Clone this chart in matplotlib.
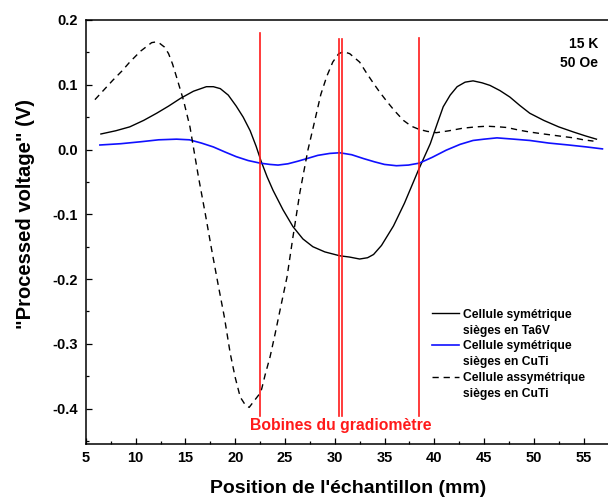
import numpy as np
import matplotlib
matplotlib.use('Agg')
from matplotlib import pyplot as plt
from matplotlib.lines import Line2D

plt.rcParams['font.family'] = ['Liberation Sans', 'DejaVu Sans']
plt.rcParams['font.weight'] = 'bold'

# Cellule symetrique, sieges en Ta6V
x_ta6v = [6.5, 8.0, 9.4, 10.8, 12.1, 13.3, 14.5, 15.8, 17.1, 17.8, 18.5, 19.3, 20.1, 20.8,
          21.5, 22.1, 22.6, 23.2, 23.8, 24.8, 25.8, 26.8, 27.8, 29.0, 30.5, 31.5, 32.5,
          33.3, 33.9, 34.7, 35.9, 37.0, 38.4, 39.6, 40.3, 40.9, 41.6, 42.3, 43.1, 43.9,
          44.8, 45.6, 46.6, 47.6, 48.6, 49.6, 51.0, 52.5, 54.0, 55.2, 56.3]
y_ta6v = [0.024, 0.029, 0.035, 0.045, 0.056, 0.067, 0.079, 0.090, 0.097, 0.097, 0.094, 0.084,
          0.067, 0.050, 0.029, 0.005, -0.018, -0.042, -0.063, -0.093, -0.119, -0.138, -0.150,
          -0.158, -0.164, -0.166, -0.169, -0.167, -0.162, -0.148, -0.118, -0.083, -0.032,
          0.009, 0.040, 0.066, 0.084, 0.097, 0.104, 0.106, 0.103, 0.099, 0.091, 0.081, 0.068,
          0.056, 0.045, 0.035, 0.027, 0.021, 0.016]

# Cellule symetrique, sieges en CuTi
x_cuti = [6.4, 8.5, 10.5, 12.3, 14.1, 15.4, 16.6, 17.8, 19.0, 20.1, 21.3, 22.5, 23.5, 24.3,
          25.3, 26.3, 27.2, 28.3, 29.5, 30.5, 31.7, 32.9, 34.0, 35.0, 36.2, 37.4, 38.5, 39.8,
          41.2, 42.6, 43.9, 45.0, 46.3, 48.0, 49.6, 51.5, 53.5, 55.3, 56.9]
y_cuti = [0.007, 0.009, 0.012, 0.015, 0.016, 0.015, 0.010, 0.004, -0.004, -0.011, -0.017,
          -0.021, -0.023, -0.024, -0.022, -0.018, -0.014, -0.009, -0.006, -0.005, -0.008,
          -0.014, -0.019, -0.023, -0.025, -0.024, -0.021, -0.012, -0.001, 0.008, 0.014, 0.016,
          0.018, 0.016, 0.014, 0.010, 0.007, 0.004, 0.001]

# Cellule assymetrique, sieges en CuTi
x_asym = [5.9, 6.8, 7.7, 8.6, 9.4, 10.5, 11.6, 12.0, 12.4, 12.9, 13.3, 13.7, 14.1, 14.8,
          15.45, 16.3, 17.0, 17.6, 18.3, 18.9, 19.5, 20.0, 20.5, 21.0, 21.4, 21.9, 22.4,
          22.65, 23.0, 23.5, 24.0, 24.5, 25.2, 25.8, 26.5, 27.3, 28.0, 28.6, 29.2, 29.8, 30.4,
          30.9, 31.5, 32.5, 33.2, 33.9, 34.5, 35.2, 36.0, 36.9, 37.7, 38.5, 39.3, 40.2, 41.5,
          42.9, 44.2, 45.3, 46.5, 47.3, 48.5, 49.6, 51.0, 52.5, 54.0, 55.0, 56.0]
y_asym = [0.077, 0.092, 0.107, 0.121, 0.135, 0.152, 0.165, 0.166, 0.164, 0.158, 0.148, 0.132,
          0.112, 0.076, 0.035, -0.042, -0.100, -0.152, -0.210, -0.258, -0.315, -0.352, -0.382,
          -0.394, -0.398, -0.388, -0.378, -0.370, -0.348, -0.320, -0.285, -0.248, -0.197,
          -0.135, -0.066, -0.001, 0.045, 0.085, 0.113, 0.135, 0.148, 0.151, 0.148, 0.135,
          0.118, 0.102, 0.089, 0.075, 0.060, 0.045, 0.036, 0.031, 0.028, 0.026, 0.029, 0.033,
          0.035, 0.036, 0.035, 0.034, 0.030, 0.027, 0.024, 0.021, 0.018, 0.015, 0.013]

# bobines du gradiometre (position, bas, haut)
coils_x = [22.5, 30.46, 30.73, 38.47]
coils_top = [0.18, 0.171, 0.171, 0.172]
coils_bottom = -0.412

labels = ['Cellule symétrique', 'sièges en Ta6V',
          'Cellule symétrique', 'sièges en CuTi',
          'Cellule assymétrique', 'sièges en CuTi']

fig = plt.figure(figsize=(6.08, 4.99), dpi=100)
ax = fig.add_axes([0.1414, 0.1096, 0.8586, 0.8504])

l1, = ax.plot(x_ta6v, y_ta6v, color='black', lw=1.0)
l2, = ax.plot(x_cuti, y_cuti, color='#1010ff', lw=1.2)
l3, = ax.plot(x_asym, y_asym, color='black', lw=1.0, dashes=(4.5, 3.5))

for xc, yt in zip(coils_x, coils_top):
    ax.plot([xc, xc], [coils_bottom, yt], color='#ff1a1a', lw=1.2)

ax.text(30.6, -0.426, 'Bobines du gradiomètre', color='#ff1a1a', fontsize=11.3,
        fontweight='bold', ha='center', va='center')
ax.text(56.46, 0.1475, '15 K\n50 Oe', fontsize=10, fontweight='bold',
        ha='right', va='center', multialignment='right', linespacing=1.45)

blank = Line2D([], [], linestyle='none')
ax.legend([l1, blank, l2, blank, l3, blank], labels, loc='upper left',
          bbox_to_anchor=(0.663, 0.32), frameon=False, fontsize=8.7,
          handlelength=2.25, handletextpad=0.33, labelspacing=0.33,
          borderpad=0, borderaxespad=0)

ax.set_xlim(5, 57.46)
ax.set_ylim(-0.455, 0.2)
ax.set_xticks(np.arange(5, 56, 5))
ax.set_xticks(np.arange(7.5, 57, 5), minor=True)
ax.set_yticks([-0.4, -0.3, -0.2, -0.1, 0.0, 0.1, 0.2])
ax.set_yticks(np.arange(-0.45, 0.2, 0.1), minor=True)
ax.yaxis.set_major_formatter(matplotlib.ticker.FormatStrFormatter('%.1f'))
ax.tick_params(which='both', direction='in', width=0.9, labelsize=10.5)
ax.tick_params(which='major', length=4.5)
ax.tick_params(which='minor', length=2.5)
ax.tick_params(axis='x', pad=4.5)
ax.tick_params(axis='y', pad=6)
ax.spines['right'].set_visible(False)
for s in ['left', 'top', 'bottom']:
    ax.spines[s].set_linewidth(1.1)

ax.set_xlabel("Position de l'échantillon (mm)", fontsize=14, fontweight='bold')
ax.set_ylabel('"Processed voltage" (V)', fontsize=14.5, fontweight='bold')
ax.xaxis.set_label_coords(0.502, -0.085)
ax.yaxis.set_label_coords(-0.098, 0.543)

fig.savefig('out.png', dpi=100)
